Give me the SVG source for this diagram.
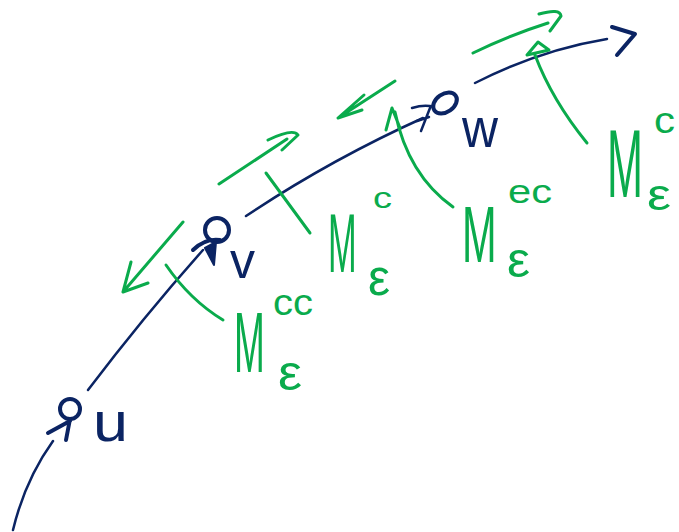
<svg xmlns="http://www.w3.org/2000/svg" width="679" height="532" viewBox="0 0 679 532">
<style>
.nv{fill:none;stroke:#0b2463;stroke-width:2.5;stroke-linecap:round;stroke-linejoin:round}
.nvb{fill:none;stroke:#0b2463;stroke-width:4;stroke-linecap:round;stroke-linejoin:round}
.gr{fill:none;stroke:#0aab4c;stroke-width:3;stroke-linecap:round;stroke-linejoin:round}
.tn{fill:#0b2463;font-family:"Liberation Sans",Arial,sans-serif}
.tg{fill:#0aab4c;font-family:"Liberation Sans",Arial,sans-serif}
</style>
<rect width="679" height="532" fill="#ffffff"/>
<g id="connectors">
  <path class="nv" d="M13,530 Q25,480 53,441"/>
  <path class="nv" d="M88,390 Q145,315 203,250"/>
  <path class="nv" d="M246,216 Q330,160 423,118"/>
  <path class="nv" d="M475,83 Q540,50 607,39"/>
  <path class="nvb" d="M612,27 L635,34 L617,55"/>
</g>
<g id="node-u">
  <circle class="nvb" cx="70" cy="409" r="10"/>
  <path class="nvb" d="M48,433 L70,421 M70,419 L66,440"/>
  <text class="tn" x="93" y="441" font-size="55" textLength="35" lengthAdjust="spacingAndGlyphs">u</text>
</g>
<g id="node-v">
  <circle class="nvb" cx="217" cy="230" r="12"/>
  <path class="nvb" d="M193,250 Q205,238 220,240"/>
  <polygon points="205,248 216,242 214,265" fill="#0b2463" stroke="#0b2463" stroke-width="2" stroke-linejoin="round"/>
  <text class="tn" x="230" y="278" font-size="52" textLength="25" lengthAdjust="spacingAndGlyphs">v</text>
</g>
<g id="node-w">
  <ellipse class="nvb" cx="445" cy="103" rx="13" ry="9" transform="rotate(-35 445 103)"/>
  <path class="nv" d="M412,108 Q425,104 434,107 M430,108 L421,131 M417,121 L429,117"/>
  <text class="tn" x="462" y="147" font-size="56" textLength="36" lengthAdjust="spacingAndGlyphs">w</text>
</g>
<g id="green-marks">
  <path class="gr" d="M183,222 L123,292 M131,262 L123,292 L148,283"/>
  <path class="gr" d="M166,265 Q190,300 223,320"/>
  <path class="gr" d="M266,173 L310,233"/>
  <path class="gr" d="M219,184 L287,139 M268,140 Q293,128 298,135 L282,150"/>
  <path class="gr" d="M395,81 L338,118 M364,95 L338,118 L362,110"/>
  <path class="gr" d="M395,112 Q408,175 453,207 M386,130 L392,108 L400,128"/>
  <path class="gr" d="M473,53 Q510,35 548,23 M539,14 Q560,8 561,16 L550,31"/>
  <path class="gr" d="M587,143 Q552,100 535,55 M527,55 L538,42 L549,50 Z"/>
</g>
<g id="label-M-cc">
  <text class="tg" transform="translate(234,372) scale(0.43,1)" font-size="86">M</text>
  <text class="tg" x="273" y="315" font-size="36" textLength="40" lengthAdjust="spacingAndGlyphs">cc</text>
  <text class="tg" x="278" y="390" font-size="50" textLength="24" lengthAdjust="spacingAndGlyphs">ε</text>
</g>
<g id="label-M-c1">
  <text class="tg" transform="translate(328,272) scale(0.41,1)" font-size="84">M</text>
  <text class="tg" x="373" y="208" font-size="30" textLength="19" lengthAdjust="spacingAndGlyphs">c</text>
  <text class="tg" x="368" y="295" font-size="52" textLength="22" lengthAdjust="spacingAndGlyphs">ε</text>
</g>
<g id="label-M-ec">
  <text class="tg" transform="translate(462,262) scale(0.52,1)" font-size="80">M</text>
  <text class="tg" x="508" y="203" font-size="34" textLength="44" lengthAdjust="spacingAndGlyphs">ec</text>
  <text class="tg" x="507" y="277" font-size="50" textLength="23" lengthAdjust="spacingAndGlyphs">ε</text>
</g>
<g id="label-M-c2">
  <text class="tg" transform="translate(607,197) scale(0.45,1)" font-size="96">M</text>
  <text class="tg" x="654" y="133" font-size="36" textLength="21" lengthAdjust="spacingAndGlyphs">c</text>
  <text class="tg" x="647" y="210" font-size="44" textLength="24" lengthAdjust="spacingAndGlyphs">ε</text>
</g>
</svg>
